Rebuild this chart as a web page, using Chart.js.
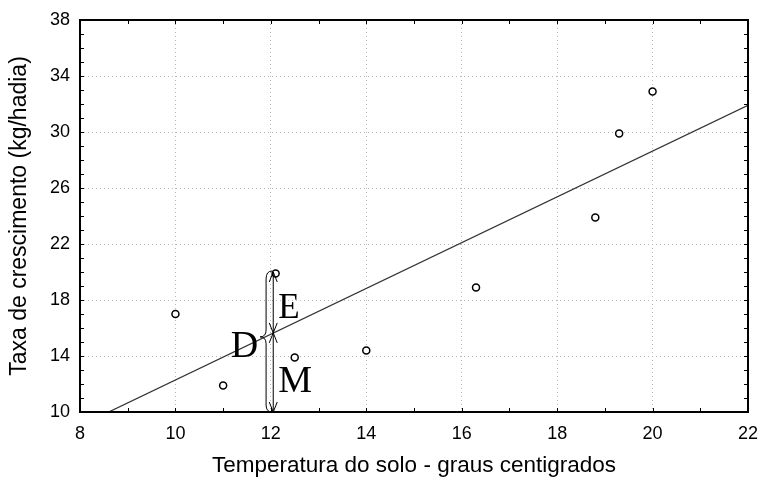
<!DOCTYPE html>
<html>
<head>
<meta charset="utf-8">
<script src="https://cdn.jsdelivr.net/npm/chart.js@4"></script>
<style>
  html, body { margin: 0; padding: 0; background: #fff; }
  #wrap { width: 760px; height: 479px; }
</style>
</head>
<body>
<div id="wrap"><canvas id="taxaChart" width="760" height="479"></canvas></div>
<script>
// observed points: soil temperature vs growth rate
var temperatura = [10, 11, 12.1, 12.5, 14, 16.3, 18.8, 19.3, 20];
var taxa = [17, 11.9, 19.9, 13.9, 14.4, 18.9, 23.9, 29.9, 32.9];

// fitted line end points
var retaX = [8.6, 22];
var retaY = [10, 31.9];

// y values for the E / D / M annotation at x = 12
var anotX = 12.05;
var chaveX = 11.9;
var anotTopo = 20;
var anotMeio = 15.65;
var anotBase = 10;

var fonteEixo = "'Liberation Sans', Arial, sans-serif";

// inward minor ticks, top/right frame and the E / D / M marks
var extras = {
    id: 'extras',
    afterDatasetsDraw: function(chart) {
        var ctx = chart.ctx;
        var xs = chart.scales.x, ys = chart.scales.y;
        var a = chart.chartArea;
        ctx.save();
        ctx.strokeStyle = '#000';
        ctx.lineWidth = 1;
        ctx.beginPath();
        for (var v = 9; v < 22; v++) {
            var px = Math.round(xs.getPixelForValue(v)) + 0.5;
            ctx.moveTo(px, a.bottom); ctx.lineTo(px, a.bottom - 4);
            ctx.moveTo(px, a.top); ctx.lineTo(px, a.top + 4);
        }
        for (var w = 11; w < 38; w++) {
            var py = Math.round(ys.getPixelForValue(w)) + 0.5;
            ctx.moveTo(a.left, py); ctx.lineTo(a.left + 4, py);
            ctx.moveTo(a.right, py); ctx.lineTo(a.right - 4, py);
        }
        ctx.stroke();
        ctx.lineWidth = 2;
        ctx.strokeRect(a.left, a.top, a.right - a.left, a.bottom - a.top);

        // double arrows
        var x = xs.getPixelForValue(anotX);
        var yT = ys.getPixelForValue(anotTopo);
        var yM = ys.getPixelForValue(anotMeio);
        var yB = ys.getPixelForValue(anotBase);
        ctx.lineWidth = 1;
        ctx.beginPath();
        ctx.moveTo(x, yT); ctx.lineTo(x, yB);
        function ponta(yp, dir) {
            ctx.moveTo(x - 4, yp + dir * 10);
            ctx.lineTo(x, yp);
            ctx.lineTo(x + 4, yp + dir * 10);
        }
        ponta(yT, 1); ponta(yM, -1); ponta(yM, 1); ponta(yB, -1);
        ctx.stroke();

        // curly brace
        var bx = xs.getPixelForValue(chaveX);
        var r = 7, h = 6;
        ctx.beginPath();
        ctx.moveTo(bx + h, yT - 1);
        ctx.quadraticCurveTo(bx, yT - 1, bx, yT + r);
        ctx.lineTo(bx, yM - r + 4);
        ctx.quadraticCurveTo(bx, yM + 4, bx - h, yM + 4);
        ctx.quadraticCurveTo(bx, yM + 4, bx, yM + r + 4);
        ctx.lineTo(bx, yB - r);
        ctx.quadraticCurveTo(bx, yB, bx + h, yB);
        ctx.stroke();

        ctx.fillStyle = '#000';
        ctx.textBaseline = 'alphabetic';
        ctx.textAlign = 'left';
        ctx.font = "35px 'Liberation Serif', 'Times New Roman', serif";
        ctx.fillText('E', x + 5, yT + 46);
        ctx.font = "38px 'Liberation Serif', 'Times New Roman', serif";
        ctx.fillText('M', x + 5, yM + 59);
        ctx.textAlign = 'right';
        ctx.fillText('D', bx - 8, yM + 24);
        ctx.restore();
    }
};

var ctx = document.getElementById('taxaChart').getContext('2d');
var taxaChart = new Chart(ctx, {
    type: 'scatter',
    data: {
        datasets: [{
            label: 'reta',
            type: 'line',
            data: retaX.map(function(v, i) { return { x: v, y: retaY[i] }; }),
            borderColor: '#333',
            borderWidth: 1.3,
            pointRadius: 0,
            fill: false,
            order: 2
        }, {
            label: 'observado',
            data: temperatura.map(function(v, i) { return { x: v, y: taxa[i] }; }),
            pointRadius: 3.5,
            pointBorderWidth: 1.5,
            pointBorderColor: '#000',
            pointBackgroundColor: '#fff',
            order: 1
        }]
    },
    options: {
        responsive: false,
        animation: false,
        layout: { padding: { top: 20, right: 12, left: 0, bottom: 0 } },
        plugins: { legend: { display: false }, tooltip: { enabled: false } },
        scales: {
            x: {
                type: 'linear',
                min: 8, max: 22,
                afterFit: function(s) { s.height = 67; s.paddingLeft = 0; s.paddingRight = 0; },
                ticks: { stepSize: 2, color: '#000', padding: 11, font: { family: fonteEixo, size: 18 } },
                grid: { color: '#b8b8b8', drawTicks: false, tickLength: 0 },
                border: { display: false, dash: [1, 3] },
                title: { display: true, text: 'Temperatura do solo - graus centigrados', color: '#000', padding: { top: 12, bottom: 0 }, font: { family: fonteEixo, size: 22.5 } }
            },
            y: {
                type: 'linear',
                min: 10, max: 38,
                afterFit: function(s) { s.width = 80; s.paddingTop = 0; s.paddingBottom = 0; },
                ticks: { stepSize: 4, color: '#000', padding: 10, font: { family: fonteEixo, size: 18 } },
                grid: { color: '#b8b8b8', drawTicks: false, tickLength: 0 },
                border: { display: false, dash: [1, 3] },
                title: { display: true, text: 'Taxa de crescimento (kg/hadia)', color: '#000', padding: { top: 6, bottom: 0 }, font: { family: fonteEixo, size: 23 } }
            }
        }
    },
    plugins: [extras]
});
</script>
</body>
</html>
